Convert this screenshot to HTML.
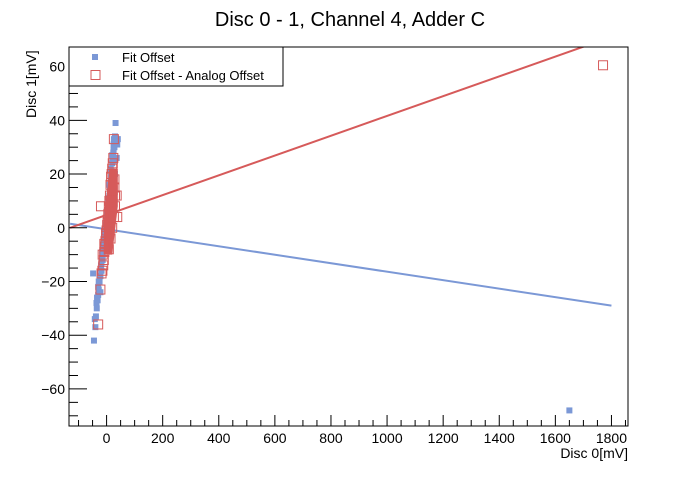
<!DOCTYPE html>
<html><head><meta charset="utf-8"><style>
body{margin:0;background:#fff;}
svg{font-family:"Liberation Sans",sans-serif;}
</style></head><body>
<svg id="c" width="698" height="474" xmlns="http://www.w3.org/2000/svg">
<rect width="698" height="474" fill="#fff"/>
<text x="350" y="26" font-size="20" text-anchor="middle" fill="#000">Disc 0 - 1, Channel 4, Adder C</text>
<g id="marks"></g>
<g id="axes"></g>
<rect x="69" y="47" width="559" height="379" fill="none" stroke="#000" stroke-width="1"/>
<text x="628" y="458" font-size="14" text-anchor="end">Disc 0[mV]</text>
<text transform="translate(36,118) rotate(-90)" font-size="14" text-anchor="start">Disc 1[mV]</text>
<g>
<rect x="69" y="47" width="214" height="39" fill="#fff" stroke="#000" stroke-width="1"/>
<rect x="92" y="54" width="6" height="6" fill="#7b98d6"/>
<text x="122" y="62" font-size="13">Fit Offset</text>
<rect x="91" y="70.5" width="9" height="9" fill="none" stroke="#d65a5a" stroke-width="1"/>
<text x="122" y="80" font-size="13">Fit Offset - Analog Offset</text>
</g>
</svg>
<script>
const xTicks=[0,200,400,600,800,1000,1200,1400,1600,1800];
const yTicks=[-60,-40,-20,0,20,40,60];
const blueLine=[[-130,1.5],[1800,-29]];
const redLine=[[-130,0],[1800,71.1]];
const blueX=[-45,-40,-38,-35,-32,-30,-28,-25,-22,-20,-18,-15,-14,-12,-10,-8,-6,-5,-3,-2,0,2,3,5,6,8,10,12,13,15,16,18,20,22,24,25,26,28,30,32,34,36,38,-42,-36,-30,-24,-20,-16,-10,-6,0,5,10,15,20,25,30,-48,-34,-28,-22,-18,-14,-8,-4,2,8,14,22,30,36,40,1650];
const blueY=[-42,-37,-33,-30,-27,-25,-23,-20,-18,-15,-13,-12,-10,-8,-6,-5,-4,-2,0,1,2,3,4,6,8,10,12,14,15,17,19,21,24,26,28,31,33,30,34,39,32,33,31,-34,-28,-22,-18,-14,-9,-4,-1,6,11,16,22,27,29,25,-17,-26,-20,-24,-16,-12,-6,-8,-2,2,8,12,20,26,33,-68];
const redX=[-30,-22,-18,-15,-12,-10,-8,-6,-4,-2,0,2,4,6,8,10,12,14,16,18,20,22,24,26,28,30,-20,-14,-8,-2,4,10,16,22,28,8,14,20,26,30,36,38,1770];
const redY=[-36,-23,-17,-16,-14,-12,-9,-7,-5,-3,-1,1,3,5,8,10,12,16,19,20,22,24,26,33,15,12,8,-10,-6,-2,2,6,10,14,18,-8,-4,0,4,8,12,4,60.5];
const X0=69,X1=628,Y0=47,Y1=426,xmin=-134,xmax=1859,ymin=-73.8,ymax=67.3;
const sx=v=>X0+(v-xmin)/(xmax-xmin)*(X1-X0);
const sy=v=>Y1-(v-ymin)/(ymax-ymin)*(Y1-Y0);
const NS='http://www.w3.org/2000/svg';
const marks=document.getElementById('marks'),axes=document.getElementById('axes');
function mk(t,a,p){const e=document.createElementNS(NS,t);for(const k in a)e.setAttribute(k,a[k]);p.appendChild(e);return e;}
const clip=mk('clipPath',{id:'cp'},marks);mk('rect',{x:X0,y:Y0,width:X1-X0,height:Y1-Y0},clip);
const g=mk('g',{'clip-path':'url(#cp)'},marks);
let l1=mk('line',{x1:sx(blueLine[0][0]),y1:sy(blueLine[0][1]),x2:sx(blueLine[1][0]),y2:sy(blueLine[1][1]),stroke:'#7b98d6','stroke-width':2},g);


let l2=mk('line',{x1:sx(redLine[0][0]),y1:sy(redLine[0][1]),x2:sx(redLine[1][0]),y2:sy(redLine[1][1]),stroke:'#d65a5a','stroke-width':2},g);


blueX.forEach((x,i)=>{const r=mk('rect',{x:sx(x)-3,y:sy(blueY[i])-3,width:6,height:6,fill:'#7b98d6'},g);

});
const bl=mk('polygon',{points:[[-10,-10],[20,-10],[40,8],[40,22],[10,22],[-10,2]].map(p=>sx(p[0])+','+sy(p[1])).join(' '),fill:'#d65a5a'},g);


redX.forEach((x,i)=>{const r=mk('rect',{x:sx(x)-4.5,y:sy(redY[i])-4.5,width:9,height:9,fill:'none',stroke:'#d65a5a','stroke-width':1},g);

});
for(let v=-100;v<=1850;v+=50){const x=sx(v);if(x<X0||x>X1)continue;const maj=v%200===0;mk('line',{x1:x,x2:x,y1:Y1,y2:Y1-(maj?11:6),stroke:'#000'},axes);}
xTicks.forEach(v=>{const t=mk('text',{x:sx(v),y:Y1+17,'font-size':14,'text-anchor':'middle'},axes);t.textContent=v;

});
for(let v=-70;v<=65;v+=5){const y=sy(v);const maj=v%20===0;mk('line',{x1:X0,x2:X0+(maj?18:9),y1:y,y2:y,stroke:'#000'},axes);}
yTicks.forEach(v=>{const t=mk('text',{x:X0-4,y:sy(v)+5,'font-size':14,'text-anchor':'end'},axes);t.textContent=v<0?'\u2212'+(-v):v;

});
</script>
</body></html>
